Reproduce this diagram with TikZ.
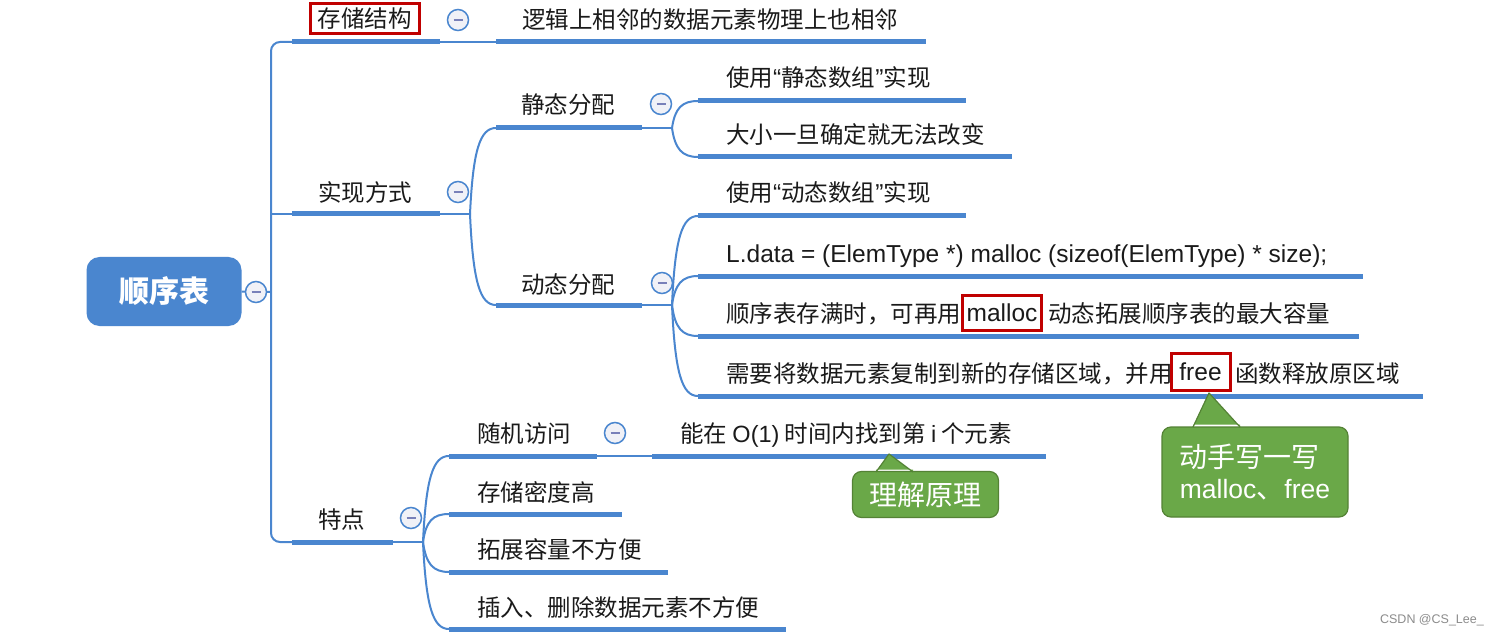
\documentclass[tikz,border=0pt]{standalone}
\usepackage{fontspec}
\setmainfont{Liberation Sans}
\newfontfamily\cjk{Noto Sans CJK SC}
\newfontfamily\lat{Liberation Sans}
\usetikzlibrary{calc}
\definecolor{mblue}{RGB}{74,134,207}
\definecolor{ink}{RGB}{26,26,26}
\definecolor{mred}{RGB}{192,0,0}
\definecolor{cgreen}{RGB}{106,168,72}
\definecolor{cgreenb}{RGB}{84,130,53}
\definecolor{iconbg}{RGB}{240,241,247}
\definecolor{iconm}{RGB}{120,128,185}
\tikzset{
  uline/.style={draw=mblue, line width=5pt},
  conn/.style={draw=mblue, line width=2pt},
  lbl/.style={font=\cjk\fontsize{23.5}{28}\selectfont, text=ink, inner sep=0pt, text height=20pt, text depth=2pt, anchor=west},
  lblc/.style={lbl, anchor=center},
  latf/.style={font=\lat\fontsize{24.5}{28}\selectfont},
  redbox/.style={draw=mred, line width=3pt},
  icon/.style={circle, draw=mblue, line width=1.5pt, fill=iconbg, minimum size=21pt, inner sep=0pt,
    path picture={\draw[iconm, line width=2pt] ([xshift=-4.5pt]path picture bounding box.center) -- ([xshift=4.5pt]path picture bounding box.center);}},
  rootbox/.style={rectangle, rounded corners=13pt, fill=mblue, minimum width=155pt, minimum height=69pt, text=white, inner sep=0pt, font=\cjk\bfseries\fontsize{30}{36}\selectfont},
  callout/.style={rectangle, rounded corners=9pt, fill=cgreen, draw=cgreenb, line width=1.2pt, text=white, inner sep=0pt, font=\cjk\fontsize{28}{31}\selectfont},
  ptr/.style={draw=cgreenb, line width=1.2pt, line join=round},
}
\newcommand{\myLQ}{{\lat\fontsize{24.5}{28}\selectfont “}}
\newcommand{\myRQ}{{\lat\fontsize{24.5}{28}\selectfont ”}}
\begin{document}
\begin{tikzpicture}[x=1pt,y=-1pt]
\useasboundingbox (0,0) rectangle (1498,636);
\fill[white] (0,0) rectangle (1498,636);

% ---------- coordinates ----------
\coordinate (r0) at (271,292);
\coordinate (s1a) at (292,42);  \coordinate (s1b) at (440,42);
\coordinate (s2a) at (292,214); \coordinate (s2b) at (440,214);
\coordinate (s3a) at (292,542); \coordinate (s3b) at (393,542);
\coordinate (c1a) at (496,42);  \coordinate (c1b) at (926,42);
\coordinate (b2) at (470,214);
\coordinate (sa) at (496,128);  \coordinate (sb) at (642,128);
\coordinate (da) at (496,305);  \coordinate (db) at (642,305);
\coordinate (bs) at (672,128);
\coordinate (st1a) at (698,101); \coordinate (st1b) at (966,101);
\coordinate (st2a) at (698,157); \coordinate (st2b) at (1012,157);
\coordinate (bd) at (672,305);
\coordinate (dy1a) at (698,216); \coordinate (dy1b) at (966,216);
\coordinate (dy2a) at (698,276); \coordinate (dy2b) at (1363,276);
\coordinate (dy3a) at (698,336); \coordinate (dy3b) at (1359,336);
\coordinate (dy4a) at (698,396); \coordinate (dy4b) at (1423,396);
\coordinate (bt) at (423,542);
\coordinate (t1a) at (449,456); \coordinate (t1b) at (597,456);
\coordinate (t2a) at (449,514); \coordinate (t2b) at (622,514);
\coordinate (t3a) at (449,572); \coordinate (t3b) at (668,572);
\coordinate (t4a) at (449,629); \coordinate (t4b) at (786,629);
\coordinate (t1c) at (652,456); \coordinate (t1d) at (1046,456);

% ---------- root ----------
\node[rootbox] (root) at (164,291.5) {顺序表};

% ---------- thin connectors ----------
\draw[conn] (root.east) -- (r0);
\draw[conn, rounded corners=9pt] (s1a) -| (r0) |- (s3a);
\draw[conn] (s2a) -- (s2a -| r0);
\draw[conn] (s1b) -- (c1a);
\draw[conn] (s2b) -- (b2);
\draw[conn] (b2) .. controls (473,150) and (480,128) .. (sa);
\draw[conn] (b2) .. controls (473,282) and (480,305) .. (da);
\draw[conn] (sb) -- (bs);
\draw[conn] (bs) .. controls (675,108) and (682,101) .. (st1a);
\draw[conn] (bs) .. controls (675,149) and (682,157) .. (st2a);
\draw[conn] (db) -- (bd);
\draw[conn] (bd) .. controls (675,238) and (682,216) .. (dy1a);
\draw[conn] (bd) .. controls (675,284) and (682,276) .. (dy2a);
\draw[conn] (bd) .. controls (675,328) and (682,336) .. (dy3a);
\draw[conn] (bd) .. controls (675,373) and (682,396) .. (dy4a);
\draw[conn] (s3b) -- (bt);
\draw[conn] (bt) .. controls (426,478) and (433,456) .. (t1a);
\draw[conn] (bt) .. controls (426,521) and (433,514) .. (t2a);
\draw[conn] (bt) .. controls (426,564) and (433,572) .. (t3a);
\draw[conn] (bt) .. controls (426,607) and (433,629) .. (t4a);
\draw[conn] (t1b) -- (t1c);

% ---------- underlines ----------
\foreach \a/\b in {s1a/s1b,s2a/s2b,s3a/s3b,c1a/c1b,sa/sb,da/db,st1a/st1b,st2a/st2b,
  dy1a/dy1b,dy2a/dy2b,dy3a/dy3b,dy4a/dy4b,t1a/t1b,t2a/t2b,t3a/t3b,t4a/t4b,t1c/t1d}
  \draw[uline] (\a) -- (\b);

% ---------- icons ----------
\node[icon] (i0) at (256,292) {};
\node[icon] (i1) at (458,20) {};
\node[icon] (i2) at (458,192) {};
\node[icon] (i3) at (661,104) {};
\node[icon] (i4) at (662,283) {};
\node[icon] (i5) at (411,518) {};
\node[icon] (i6) at (615,433) {};

% ---------- labels ----------
\node[lblc, redbox, minimum width=109pt, minimum height=30pt] (n1) at (364.5,19) {存储结构};
\node[lbl] (n1c) at (522,20) {逻辑上相邻的数据元素物理上也相邻};
\node[lblc] (n2) at (365,193) {实现方式};
\node[lblc] (n3) at (341.5,519) {特点};
\node[lblc] (n21) at (568,105) {静态分配};
\node[lblc] (n22) at (568,284) {动态分配};
\node[lbl] (n211) at (726,78) {使用\myLQ 静态数组\myRQ 实现};
\node[lbl] (n212) at (726,135) {大小一旦确定就无法改变};
\node[lbl] (n221) at (726,193) {使用\myLQ 动态数组\myRQ 实现};
\node[lbl, latf] (n222) at (726,253) {L.data = (ElemType *) malloc (sizeof(ElemType) * size);};
\node[lbl] (n223a) at (726,313) {顺序表存满时，可再用};
\node[lblc, latf, redbox, minimum width=79pt, minimum height=35pt] (n223m) at (1002,312.5) {malloc};
\node[lbl] (n223b) at (1048,313) {动态拓展顺序表的最大容量};
\node[lbl] (n224a) at (726,373) {需要将数据元素复制到新的存储区域，并用};
\node[lblc, latf, redbox, minimum width=59pt, minimum height=37pt] (n224f) at (1200.5,371.5) {free};
\node[lbl] (n224b) at (1235,373) {函数释放原区域};
\node[lbl] (n31) at (477,433) {随机访问};
\node[lbl] (n311) at (680,433) {能在 {\lat O(1)} 时间内找到第 {\lat i} 个元素};
\node[lbl] (n32) at (477,492) {存储密度高};
\node[lbl] (n33) at (477,549) {拓展容量不方便};
\node[lbl] (n34) at (477,607) {插入、删除数据元素不方便};

% ---------- callouts ----------
\node[callout, minimum width=146pt, minimum height=46pt] (cb1) at (925.5,494.5) {理解原理};
\coordinate (tip1) at (889,454);
\coordinate (b1l) at (876,472);
\coordinate (b1r) at (913,472);
\fill[cgreen] ($(b1l)+(0,-2.5)$) -- (b1l) -- (tip1) -- (b1r) -- ($(b1r)+(0,-2.5)$) -- cycle;
\draw[ptr] (b1l) -- (tip1) -- (b1r);

\node[callout, minimum width=186pt, minimum height=90pt, align=left] (cb2) at (1255,472)
  {动手写一写\\{\lat\fontsize{26.5}{31}\selectfont malloc}、{\lat\fontsize{26.5}{31}\selectfont free}};
\coordinate (tip2) at (1209,393);
\coordinate (b2l) at (1193,427);
\coordinate (b2r) at (1240,427);
\fill[cgreen] ($(b2l)+(0,-2.5)$) -- (b2l) -- (tip2) -- (b2r) -- ($(b2r)+(0,-2.5)$) -- cycle;
\draw[ptr] (b2l) -- (tip2) -- (b2r);

% ---------- watermark ----------
\node[anchor=east, text=black!45, font=\lat\fontsize{12.5}{14}\selectfont, inner sep=0pt] (wm) at (1484,620) {CSDN @CS\_Lee\_};
\end{tikzpicture}
\end{document}
